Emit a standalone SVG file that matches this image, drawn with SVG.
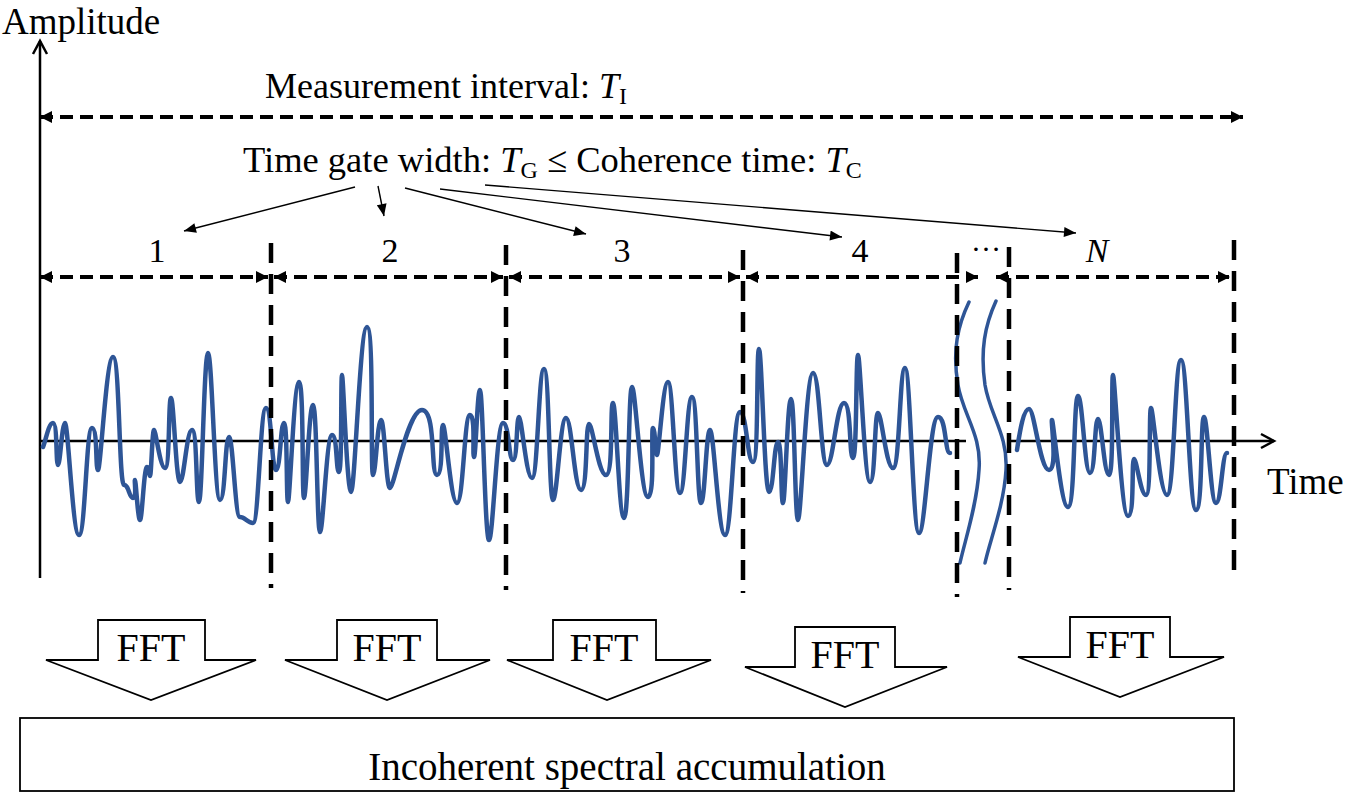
<svg xmlns="http://www.w3.org/2000/svg" width="1348" height="807" viewBox="0 0 1348 807">
<defs>
<style>
.t{font-family:"Liberation Serif","Times New Roman",serif;fill:#000}
.ax{stroke:#000;stroke-width:2.5;fill:none}
.hd{stroke:#000;stroke-width:4;stroke-dasharray:13 7;fill:none}
.vd{stroke:#000;stroke-width:4.5;stroke-dasharray:20 11;fill:none}
.thin{stroke:#000;stroke-width:1.4;fill:none}
.wave{stroke:#2E5596;stroke-width:4.5;fill:none;stroke-linejoin:round;stroke-linecap:round}
.brk{stroke:#2E5596;stroke-width:3.5;fill:none;stroke-linecap:round}
.fft{fill:#fff;stroke:#000;stroke-width:1.8}
</style>
<marker id="fh" viewBox="0 0 12 12" refX="12" refY="6" markerWidth="12" markerHeight="12" markerUnits="userSpaceOnUse" orient="auto-start-reverse"><path d="M0,0 L12,6 L0,12 z" fill="#000"/></marker>
<marker id="sh" viewBox="0 0 12 10" refX="12" refY="5" markerWidth="13" markerHeight="10" markerUnits="userSpaceOnUse" orient="auto"><path d="M0,0 L12,5 L0,10 z" fill="#000"/></marker>
</defs>
<rect width="1348" height="807" fill="#fff"/>

<g id="axes">
<path class="ax" d="M40,578 V41"/>
<path class="ax" d="M33,54 L40,41 L47,54"/>
<path class="ax" d="M40,441 H966 M1007,441 H1274"/>
<path class="ax" d="M1261,434 L1274,441 L1261,448"/>
<text class="t" x="2" y="34" font-size="37">Amplitude</text>
<text class="t" x="1267" y="494" font-size="37">Time</text>
</g>

<g id="waveform">
<path class="wave" d="M43,447 C46,440 48.5,423 53,423 S55.8,465 58,465 S61.9,423 65,423 S72.7,535 79,535 S86.2,428 92,428 S95.3,470 98,470 S106.3,357 113,357 S119,485 124,485 S129,498 133,498 S134.1,480 135,480 S137.8,520 140,520 S143.9,467 147,467 S148.7,476 150,476 S152.2,430 154,430 S160,468 165,468 S168.3,398 171,398 S176,482 180,482 S186.6,430 192,430 S195.9,502 199,502 S204,353 208,353 S214.6,500 220,500 S225,437 229,437 S235,517 240,517 S247.2,523 253,523 S260.2,408 266,408 S271.5,470 276,470 S280.4,423 284,423 S286.2,502 288,502 S294,382 299,382 S301.8,498 304,498 S309,405 313,405 S316.9,532 320,532 S326.6,435 332,435 S335.9,472 339,472 S340.7,375 342,375 S347,492 351,492 S359.8,327 367,327 S370.3,475 373,475 S377.4,420 381,420 S386,488 390,488 S407.6,410 422,410 S430.3,475 437,475 S440.3,425 443,425 S450.7,503 457,503 S464.2,415 470,415 S472.2,457 474,457 S477.3,390 480,390 S485,540 489,540 S496.7,423 503,423 S508.5,460 513,460 S516.3,417 519,417 S526.2,478 532,478 S538.6,369 544,369 S549,500 553,500 S560.2,418 566,418 S574.2,490 581,490 S585.4,424 589,424 S598.4,475 606,475 S609.9,403 613,403 S619,518 624,518 S628.4,387 632,387 S640.8,497 648,497 S650.8,428 653,428 S655.2,455 657,455 S663,382 668,382 S674.6,493 680,493 S686.6,397 692,397 S697,503 701,503 S706,430 710,430 S718.2,535 725,535 S733.2,412 740,412 S747.2,462 753,462 S756.3,349 759,349 S764.5,492 769,492 S774,442 778,442 S780.8,503 783,503 S787.4,399 791,399 S794.9,520 798,520 S806.2,373 813,373 S820.7,465 827,465 S836.4,403 844,403 S849,458 853,458 S855.8,355 858,355 S864.6,482 870,482 S874.4,413 878,413 S886.2,468 893,468 S899.6,368 905,368 S912.7,533 919,533 S929.5,417 938,417 S944.6,453 950,453"/>
<path class="wave" d="M1017,450 C1020,430 1023.6,409 1029,409 S1040,470 1049,470 S1050.6,420 1052,420 S1060.8,507 1068,507 S1073.5,396 1078,396 S1084.6,473 1090,473 S1094.4,419 1098,419 S1104,475 1109,475 S1111.2,375 1113,375 S1121.2,516 1128,516 S1131.3,459 1134,459 S1140.6,495 1146,495 S1148.8,408 1151,408 S1159.8,495 1167,495 S1174.7,360 1181,360 S1189.2,510 1196,510 S1200.4,417 1204,417 S1210.6,503 1216,503 S1222,453 1227,453"/>
<path class="brk" d="M969,302 C958,325 952,350 958,385 C963,415 982,435 979,470 C977,505 965,540 960,563"/>
<path class="brk" d="M996,301 C985,325 980,350 985,385 C990,415 1008,435 1006,470 C1004,505 990,540 985,563"/>
</g>

<g id="gate-boundaries">
<path class="vd" d="M271,243 V588"/>
<path class="vd" d="M506,245 V590"/>
<path class="vd" d="M743,250 V593"/>
<path class="vd" d="M957,253 V597"/>
<path class="vd" d="M1009,247 V590"/>
<path class="vd" d="M1234,240 V580"/>
</g>

<g id="measurement-interval">
<path class="hd" d="M40,117 H1243" marker-start="url(#fh)" marker-end="url(#fh)"/>
<text class="t" x="265" y="98" font-size="36">Measurement interval: <tspan font-style="italic">T</tspan><tspan font-size="24" dy="6">I</tspan></text>
</g>

<g id="time-gate-label">
<text class="t" x="243" y="172" font-size="36.5">Time gate width: <tspan font-style="italic">T</tspan><tspan font-size="24" dy="6">G</tspan><tspan dy="-6"> ≤ Coherence time: </tspan><tspan font-style="italic">T</tspan><tspan font-size="24" dy="6">C</tspan></text>
</g>

<g id="gate-arrows">
<path class="hd" d="M40,277 H268" marker-start="url(#fh)" marker-end="url(#fh)"/>
<path class="hd" d="M274,277 H503" marker-start="url(#fh)" marker-end="url(#fh)"/>
<path class="hd" d="M509,277 H740" marker-start="url(#fh)" marker-end="url(#fh)"/>
<path class="hd" d="M746,277 H978" marker-start="url(#fh)" marker-end="url(#fh)"/>
<path class="hd" d="M996,277 H1230" marker-start="url(#fh)" marker-end="url(#fh)"/>
<text class="t" x="157" y="262" font-size="34" text-anchor="middle">1</text>
<text class="t" x="390" y="262" font-size="34" text-anchor="middle">2</text>
<text class="t" x="622" y="262" font-size="34" text-anchor="middle">3</text>
<text class="t" x="860" y="262" font-size="34" text-anchor="middle">4</text>
<text class="t" x="986" y="251" font-size="30" text-anchor="middle">…</text>
<text class="t" x="1097" y="262" font-size="34" text-anchor="middle" font-style="italic">N</text>
</g>

<g id="connectors">
<path class="thin" d="M355,187 L184,231" marker-end="url(#sh)"/>
<path class="thin" d="M378,186 L384,216" marker-end="url(#sh)"/>
<path class="thin" d="M405,188 L586,234" marker-end="url(#sh)"/>
<path class="thin" d="M440,189 L842,237" marker-end="url(#sh)"/>
<path class="thin" d="M485,185 L1076,233" marker-end="url(#sh)"/>
</g>

<g id="fft1"><polygon class="fft" points="98,620 205,620 205,660 256,660 151,700 46,660 98,660"/><text class="t" x="151" y="661" font-size="40" text-anchor="middle">FFT</text></g>
<g id="fft2"><polygon class="fft" points="337,620 437,620 437,660 490,660 387,700 285,660 337,660"/><text class="t" x="387" y="661" font-size="40" text-anchor="middle">FFT</text></g>
<g id="fft3"><polygon class="fft" points="553,620 656,620 656,660 711,660 607,700 507,660 553,660"/><text class="t" x="604" y="661" font-size="40" text-anchor="middle">FFT</text></g>
<g id="fft4"><polygon class="fft" points="795,627 895,627 895,667 947,667 845,707 745,667 795,667"/><text class="t" x="845" y="668" font-size="40" text-anchor="middle">FFT</text></g>
<g id="fftN"><polygon class="fft" points="1070,617 1170,617 1170,657 1224,657 1120,697 1018,657 1070,657"/><text class="t" x="1120" y="658" font-size="40" text-anchor="middle">FFT</text></g>

<g id="accumulation">
<rect class="fft" x="20" y="718" width="1214" height="73"/>
<text class="t" x="627" y="780" font-size="39" text-anchor="middle">Incoherent spectral accumulation</text>
</g>
</svg>
